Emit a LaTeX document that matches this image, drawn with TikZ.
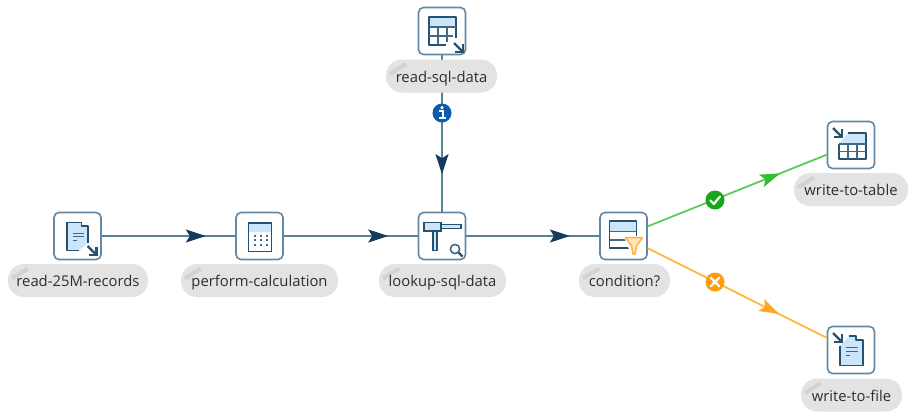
\documentclass[tikz,border=0pt]{standalone}
\usepackage{fontspec}
\setmainfont{Open Sans}
\usetikzlibrary{arrows.meta,decorations.markings}
\definecolor{boxedge}{HTML}{6388A5}
\definecolor{inkdark}{HTML}{28506F}
\definecolor{inkgrid}{HTML}{3F6986}
\definecolor{paleblue}{HTML}{CBE6FB}
\definecolor{linkline}{HTML}{578399}
\definecolor{linktip}{HTML}{143A5C}
\definecolor{pillgrey}{HTML}{E3E3E3}
\definecolor{pencilgrey}{HTML}{D3D3D3}
\definecolor{okline}{HTML}{5CCB5C}
\definecolor{oktip}{HTML}{2FBF2F}
\definecolor{okdot}{HTML}{17A51B}
\definecolor{noline}{HTML}{FFB83F}
\definecolor{notip}{HTML}{FFA826}
\definecolor{nodot}{HTML}{FF9D0C}
\definecolor{infodot}{HTML}{0B5CAD}
\definecolor{funnelfill}{HTML}{FFE6B8}
\definecolor{funneledge}{HTML}{FFB23E}
\tikzset{
  stepbox/.style={draw=boxedge,line width=1.6pt,fill=white,rounded corners=5pt,minimum width=47pt,minimum height=47pt,inner sep=0pt},
  pill/.style={fill=pillgrey,rounded corners=16pt,minimum height=33pt,inner sep=0pt,text=black!82,
    font=\fontsize{14.8}{18}\selectfont,text height=14pt,text depth=2pt,
    path picture={\draw[pencilgrey,line width=4pt] ([xshift=4pt,yshift=2pt]path picture bounding box.west)--([xshift=20pt,yshift=12pt]path picture bounding box.west);}},
  hop/.style 2 args={line width=1.8pt,postaction={decorate},decoration={markings,mark=at position #2 with {\arrow{Stealth[length=20pt,width=13pt,inset=4pt,color=#1]}}}},
  badge/.style={circle,fill=#1,minimum size=19pt,inner sep=0pt},
  ink/.style={draw=inkdark,line width=1.7pt,line join=round},
  thin ink/.style={draw=inkgrid,line width=.9pt},
  grid ink/.style={draw=inkgrid,line width=1.2pt},
  glyph/.style={draw=white,line width=2.2pt,line cap=round,line join=round},
}
\newcommand{\cornerarrow}[2]{%
  \draw[draw=inkdark,line width=2.2pt] (#1,#2)--(#1+9,#2+9);
  \draw[draw=inkdark,line width=2.2pt,line join=miter] (#1+9,#2+1)--(#1+9,#2+9)--(#1+1,#2+9);}
\begin{document}
\begin{tikzpicture}[x=1pt,y=-1pt]
\useasboundingbox[fill=white] (0,0) rectangle (912,416);
% step boxes
\node[stepbox] (a) at (77.5,236) {};
\node[stepbox] (b) at (259.5,236) {};
\node[stepbox] (c) at (442,236) {};
\node[stepbox] (d) at (623.5,236) {};
\node[stepbox] (e) at (442,31) {};
\node[stepbox] (f) at (851,145) {};
\node[stepbox] (g) at (851,350) {};
% connectors
\draw[hop={linktip}{.78},draw=linkline] (a)--(b);
\draw[hop={linktip}{.78},draw=linkline] (b)--(c);
\draw[hop={linktip}{.78},draw=linkline] (c)--(d);
\draw[hop={linktip}{.76},draw=linkline] (e)--(c);
\draw[hop={oktip}{.74},draw=okline] (d)--(f);
\draw[hop={notip}{.735},draw=noline] (d)--(g);
% labels
\node[pill,minimum width=140pt] (la) at (78,280.5) {read-25M-records};
\node[pill,minimum width=157pt] (lb) at (259.5,280.5) {perform-calculation};
\node[pill,minimum width=127pt] (lc) at (442.5,280.5) {lookup-sql-data};
\node[pill,minimum width=91pt] (ld) at (624.5,280.5) {condition?};
\node[pill,minimum width=111pt] (le) at (441.5,76) {read-sql-data};
\node[pill,minimum width=114pt] (lf) at (851,189.5) {write-to-table};
\node[pill,minimum width=101pt] (lg) at (851.5,395) {write-to-file};
% badges
\node[badge=infodot] (bi) at (442,113) {};
\node[badge=okdot] (bo) at (715,200) {};
\node[badge=nodot] (bx) at (715,282) {};
\fill[white] (442,107.6) circle (1.7pt);
\draw[white,line width=2.4pt] (439.2,111.2)--(443,111.2)--(443,118.2);
\draw[white,line width=1.8pt] (438.8,118.3)--(446.4,118.3);
\draw[glyph] (710.5,200.5)--(713.8,204)--(720,196.5);
\draw[glyph] (711,278)--(719,286);
\draw[glyph] (719,278)--(711,286);
% icon: read file
\begin{scope}[shift={(a.center)}]
  \fill[paleblue] (-10.5,-13.5)--(4,-13.5)--(4,-10)--(10.5,-10)--(10.5,7)--(1,14.5)--(-10.5,14.5)--cycle;
  \draw[ink] (1,14.5)--(-10.5,14.5)--(-10.5,-13.5)--(4,-13.5)--(4,-10)--(10.5,-10)--(10.5,7);
  \draw[thin ink] (-5,-3)--(6,-3) (-5,0.5)--(6,0.5) (-5,4)--(-1,4);
  \cornerarrow{10}{10}
\end{scope}
% icon: calculator
\begin{scope}[shift={(b.center)}]
  \fill[paleblue] (-11,-13)rectangle(12,-4);
  \draw[ink] (-11,-13)rectangle(12,15.5);
  \foreach \u in {-5,1,7}\foreach \v in {-0.5,4,8.5}{\fill[inkgrid] (\u-1,\v-1) rectangle (\u+1,\v+1);}
\end{scope}
% icon: lookup
\begin{scope}[shift={(c.center)}]
  \draw[draw=inkdark,fill=paleblue,line width=1.5pt] (-18,-11.5)rectangle(19,-7.5);
  \draw[draw=inkdark,fill=paleblue,line width=1.5pt] (-18,-13.5)rectangle(-1,-5);
  \draw[draw=inkdark,fill=paleblue,line width=1.5pt] (-9,-5)rectangle(-5,14.5);
  \draw[draw=inkgrid,line width=1.6pt] (13,13) circle (4.6pt);
  \draw[draw=inkdark,line width=2.2pt] (16.5,16.5)--(20.5,20.5);
\end{scope}
% icon: condition
\begin{scope}[shift={(d.center)}]
  \fill[paleblue] (-14,-15)rectangle(13,-4.5);
  \draw[ink] (13,-15)--(-14,-15)--(-14,12)--(13,12)--cycle;
  \draw[grid ink] (-14,-4.5)--(13,-4.5) (-14,4)--(13,4);
  \fill[white] (0,0)--(21,0)--(21,19)--(8,19)--cycle;
  \draw[draw=funneledge,fill=funnelfill,line width=1.5pt,line join=round] (2,1.5)--(19,1.5)--(13,10)--(11.5,18)--(9.5,18)--(8,10)--cycle;
\end{scope}
% icon: read sql
\begin{scope}[shift={(e.center)}]
  \fill[paleblue] (-13,-14)rectangle(14,-4);
  \draw[ink] (4,14)--(-13,14)--(-13,-14)--(14,-14)--(14,7);
  \draw[grid ink] (-13,-4)--(14,-4) (-13,5)--(11,5) (-4,-4)--(-4,14) (5,-4)--(5,11);
  \cornerarrow{12}{12}
\end{scope}
% icon: write table
\begin{scope}[shift={(f.center)}]
  \fill[paleblue] (-12,-1)--(-3,-12)--(15,-12)--(15,-1)--cycle;
  \draw[ink] (-3,-12)--(15,-12)--(15,14)--(-12,14)--(-12,-1);
  \draw[grid ink] (-12,-1)--(15,-1) (-12,6.5)--(15,6.5) (-3,-1)--(-3,14) (6,-1)--(6,14);
  \cornerarrow{-18}{-17}
\end{scope}
% icon: write file
\begin{scope}[shift={(g.center)}]
  \fill[paleblue] (-11,-4)--(-2,-14)--(5,-14)--(5,-10)--(12,-10)--(12,15.5)--(-11,15.5)--cycle;
  \draw[ink] (-2,-14)--(5,-14)--(5,-10)--(12,-10)--(12,15.5)--(-11,15.5)--(-11,-4);
  \draw[thin ink] (-5,-3)--(7,-3) (-5,1)--(7,1) (-5,5)--(-1,5);
  \cornerarrow{-18}{-17}
\end{scope}
\end{tikzpicture}
\end{document}
